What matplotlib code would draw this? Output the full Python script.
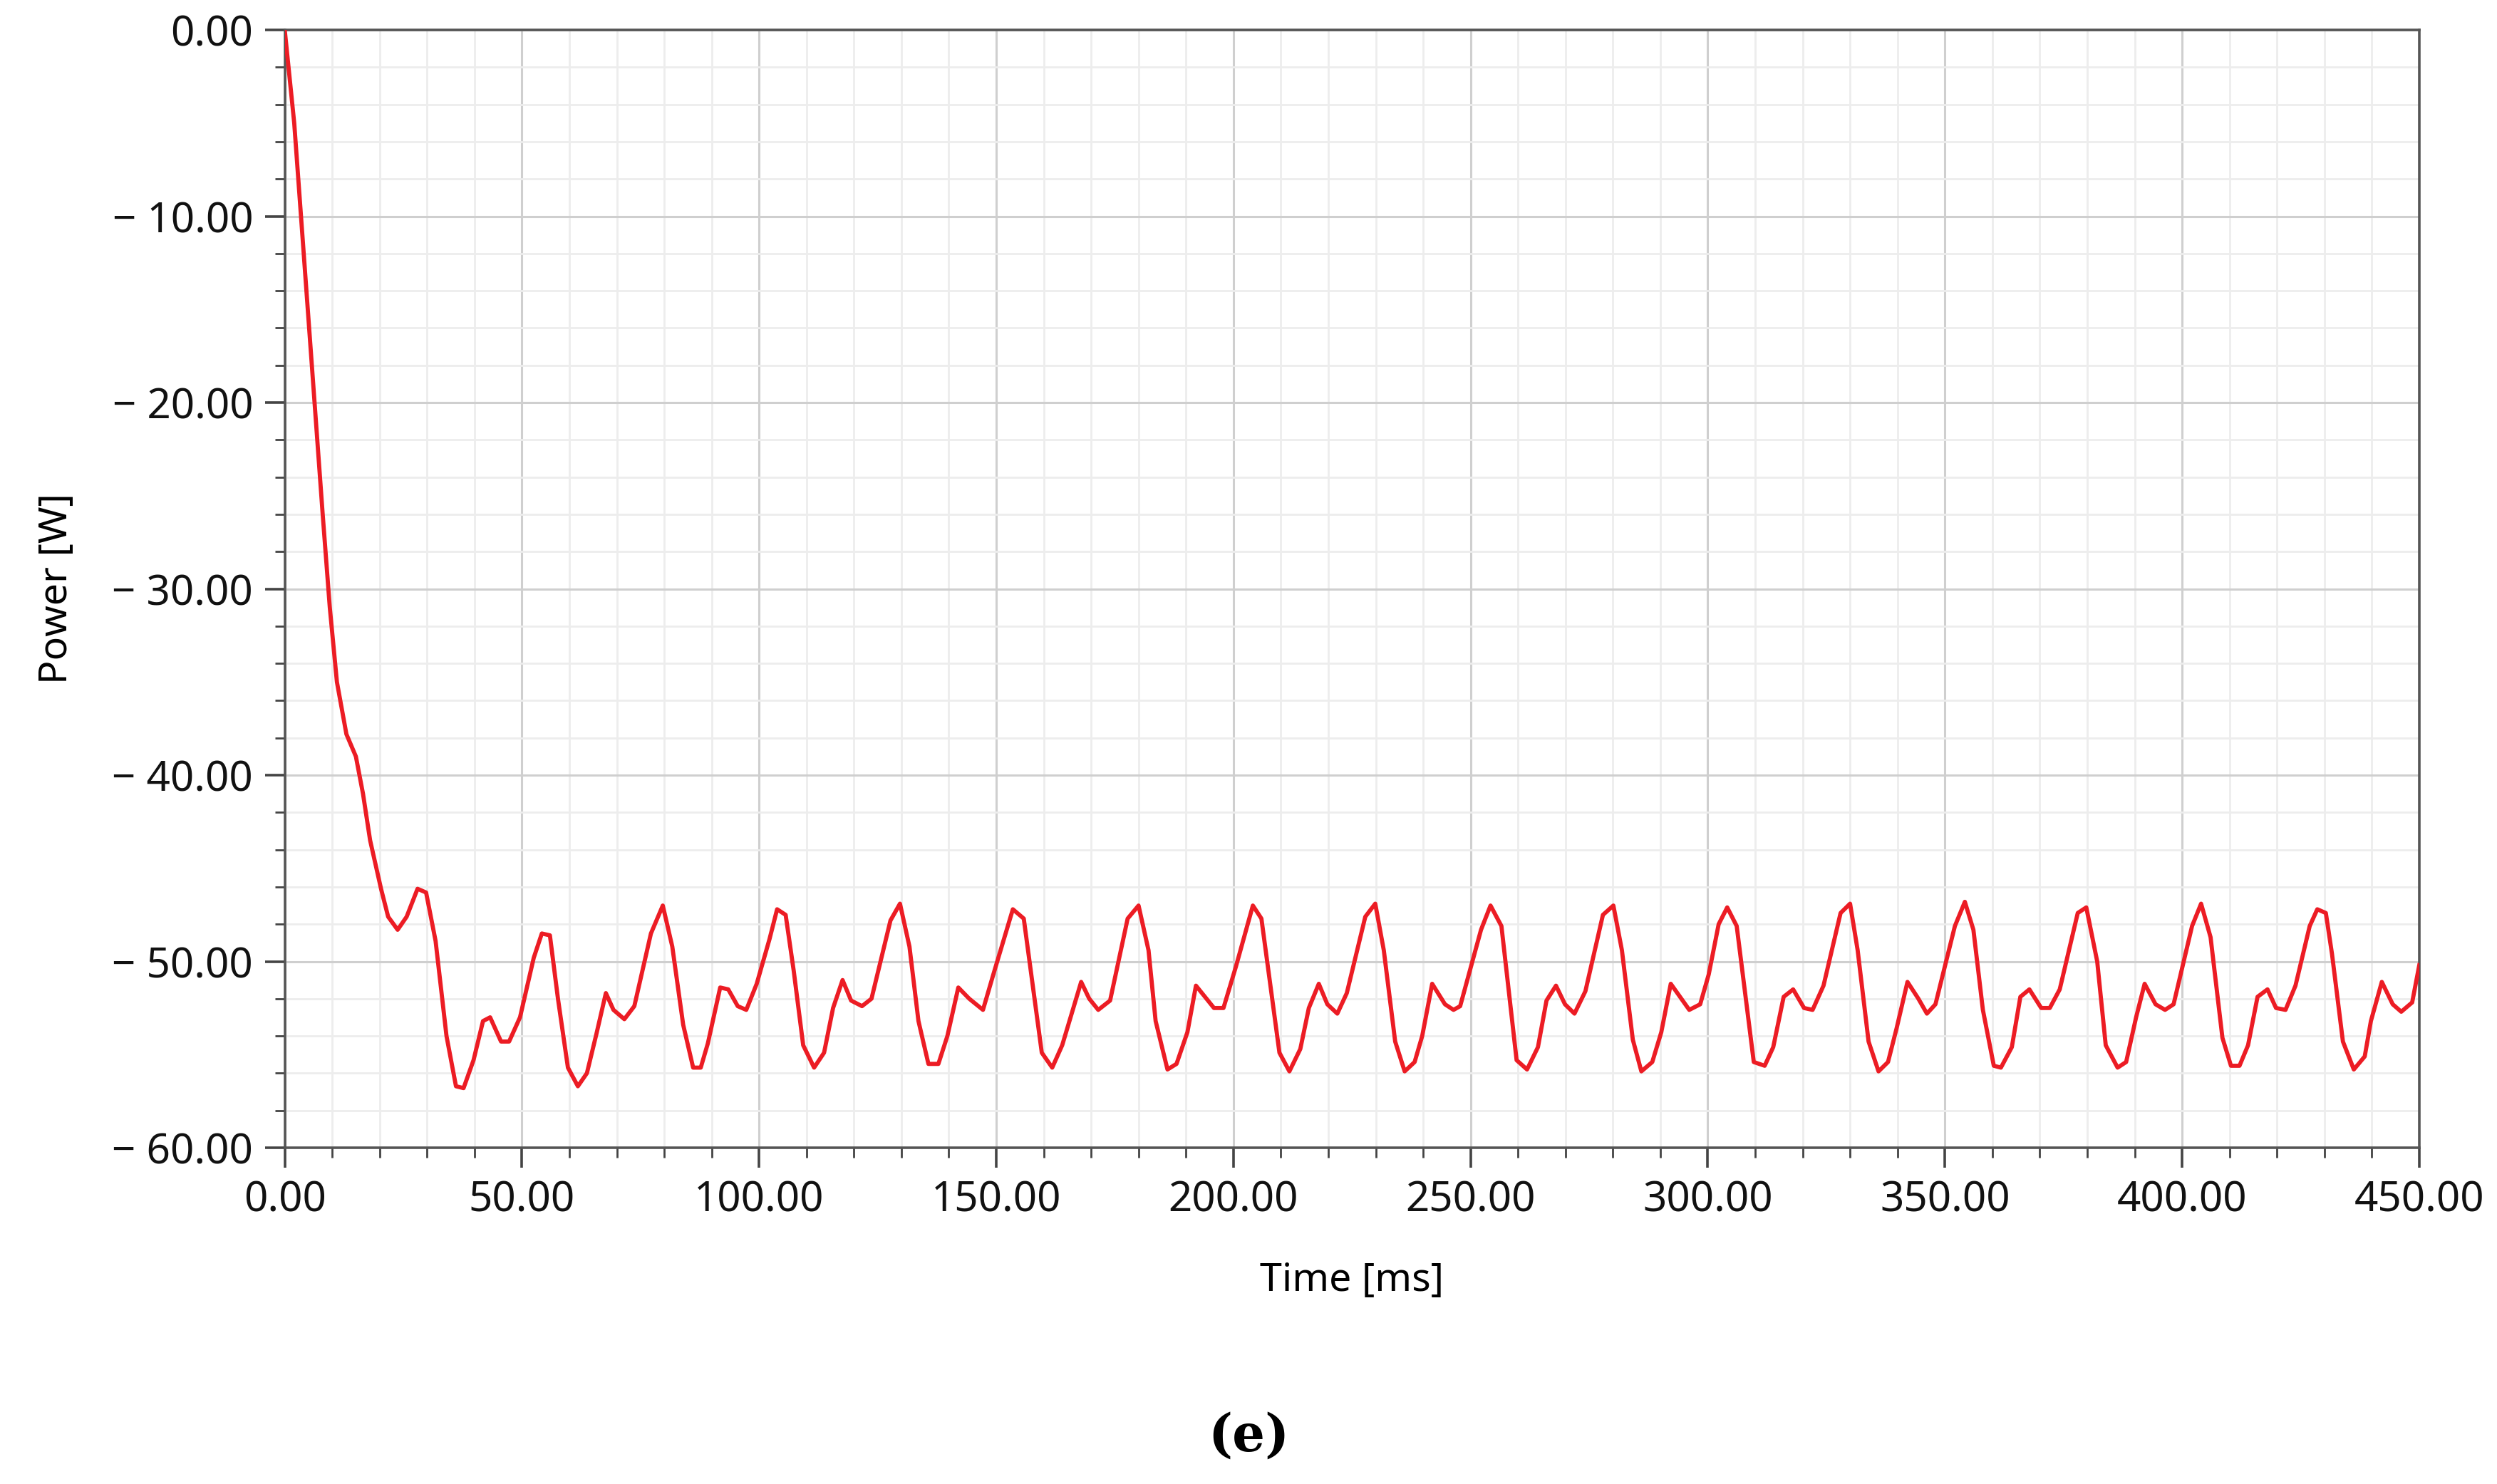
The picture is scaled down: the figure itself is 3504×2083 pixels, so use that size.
import matplotlib
matplotlib.use("Agg")
import matplotlib.pyplot as plt
from matplotlib.ticker import MultipleLocator, FixedLocator

# values
time_ms = [0, 2, 4, 6, 8, 9.5, 11, 13, 15, 16.5, 18, 20.3, 21.8, 23.8, 25.7, 28.0, 29.8,
           31.8, 34.1, 36.1, 37.7, 39.8, 41.8, 43.3, 45.6, 47.3, 49.6, 52.5, 54.2, 55.9,
           57.6, 59.7, 61.8, 63.7, 65.7, 67.7, 69.3, 71.6, 73.7, 77.2, 79.7, 81.7, 84.0,
           86.1, 87.7, 89.2, 91.8, 93.5, 95.5, 97.3, 99.5, 102.2, 103.8, 105.6, 107.3,
           109.3, 111.6, 113.7, 115.6, 117.6, 119.4, 121.7, 123.7, 127.7, 129.7, 131.7,
           133.6, 135.7, 137.8, 139.7, 142.0, 144.3, 147.2, 149.5, 153.5, 155.8, 159.6,
           161.8, 163.9, 167.9, 169.6, 171.5, 174.0, 177.7, 180.0, 182.1, 183.6, 186.1,
           188.0, 190.3, 192.1, 195.9, 197.9, 200.5, 204.1, 205.9, 207.9, 209.7, 211.8,
           214.1, 215.9, 218.0, 219.8, 221.9, 223.9, 227.8, 229.9, 231.7, 234.1, 236.1,
           238.2, 239.8, 241.9, 244.6, 246.4, 247.8, 252.2, 254.2, 256.5, 259.7, 261.9,
           264.2, 266.0, 268.0, 269.9, 271.9, 274.2, 277.9, 280.1, 281.9, 284.2, 286.0,
           288.3, 290.2, 292.2, 296.1, 298.4, 300.2, 302.3, 304.1, 306.1, 309.7, 312.0,
           313.8, 316.0, 318.0, 320.3, 322.1, 324.4, 328.0, 330.0, 331.6, 333.9, 336.0,
           338.0, 339.8, 342.1, 344.4, 346.2, 348.0, 352.1, 354.2, 356.0, 358.0, 360.3,
           361.8, 364.1, 365.9, 367.8, 370.3, 372.1, 374.2, 378.0, 379.8, 382.1, 383.9,
           386.4, 388.2, 390.3, 392.1, 394.4, 396.4, 398.2, 402.1, 404.0, 406.0, 408.5,
           410.3, 412.1, 413.9, 415.9, 418.0, 419.8, 421.8, 423.9, 426.9, 428.5, 430.3,
           431.6, 433.9, 436.2, 438.5, 439.8, 442.1, 444.4, 446.2, 448.5, 450.0]
power_w = [0, -5, -12, -19, -26, -31, -35, -37.8, -39, -41, -43.5, -46.1, -47.6, -48.3,
           -47.6, -46.1, -46.3, -48.9, -54.0, -56.7, -56.8, -55.3, -53.2, -53.0, -54.3,
           -54.3, -53.0, -49.8, -48.5, -48.6, -52.0, -55.7, -56.7, -56.0, -53.9, -51.7,
           -52.6, -53.1, -52.4, -48.5, -47.0, -49.2, -53.4, -55.7, -55.7, -54.4, -51.4,
           -51.5, -52.4, -52.6, -51.2, -48.8, -47.2, -47.5, -50.5, -54.5, -55.7, -54.9,
           -52.5, -51.0, -52.1, -52.4, -52.0, -47.8, -46.9, -49.2, -53.2, -55.5, -55.5,
           -54.0, -51.4, -52.0, -52.6, -50.6, -47.2, -47.7, -54.9, -55.7, -54.5, -51.1,
           -52.0, -52.6, -52.1, -47.7, -47.0, -49.4, -53.2, -55.8, -55.5, -53.8, -51.3,
           -52.5, -52.5, -50.3, -47.0, -47.7, -51.5, -54.9, -55.9, -54.7, -52.5, -51.2,
           -52.3, -52.8, -51.7, -47.6, -46.9, -49.4, -54.3, -55.9, -55.4, -54.0, -51.2,
           -52.3, -52.6, -52.4, -48.3, -47.0, -48.1, -55.3, -55.8, -54.6, -52.1, -51.3,
           -52.3, -52.8, -51.6, -47.5, -47.0, -49.4, -54.2, -55.9, -55.4, -53.8, -51.2,
           -52.6, -52.3, -50.7, -48.0, -47.1, -48.1, -55.4, -55.6, -54.6, -51.9, -51.5,
           -52.5, -52.6, -51.3, -47.4, -46.9, -49.4, -54.3, -55.9, -55.4, -53.6, -51.1,
           -52.0, -52.8, -52.3, -48.1, -46.8, -48.3, -52.6, -55.6, -55.7, -54.6, -51.9,
           -51.5, -52.5, -52.5, -51.5, -47.4, -47.1, -50.0, -54.5, -55.7, -55.4, -53.0,
           -51.2, -52.3, -52.6, -52.3, -48.1, -46.9, -48.7, -54.1, -55.6, -55.6, -54.5,
           -51.9, -51.5, -52.5, -52.6, -51.3, -48.1, -47.2, -47.4, -49.6, -54.3, -55.8,
           -55.1, -53.2, -51.1, -52.3, -52.7, -52.2, -50.2]

x_ticks = [0, 50, 100, 150, 200, 250, 300, 350, 400, 450]
y_ticks = [0, -10, -20, -30, -40, -50, -60]

plt.rcParams['font.family'] = ['Noto Sans', 'DejaVu Sans']
fig = plt.figure(figsize=(35.05, 20.83), dpi=100)
ax = fig.add_axes([0.114, 0.2266, 0.8546, 0.7532])

ax.plot(time_ms, power_w, color="#ec1c24", lw=4.2, zorder=3)

ax.set_xlim(0, 450)
ax.set_ylim(-60, 0)
ax.xaxis.set_major_locator(FixedLocator(x_ticks))
ax.yaxis.set_major_locator(FixedLocator(y_ticks))
ax.xaxis.set_minor_locator(MultipleLocator(10))
ax.yaxis.set_minor_locator(MultipleLocator(2))
ax.set_xticklabels([f"{v:.2f}" for v in x_ticks])
ax.set_yticklabels([("\u2212 " if v < 0 else "") + f"{abs(v):.2f}" for v in y_ticks])

ax.grid(which="major", color="#cfcfcf", lw=2.2)
ax.grid(which="minor", color="#ededed", lw=2.0)
ax.set_axisbelow(True)
for s in ax.spines.values():
    s.set_color("#555555")
    s.set_linewidth(2.6)
ax.tick_params(which="major", length=20, width=2.6, color="#444444",
               labelsize=42, pad=12, labelcolor="#111111")
ax.tick_params(which="minor", length=10, width=2, color="#444444")

ax.set_xlabel("Time [ms]", fontsize=40, labelpad=40)
ax.set_ylabel("Power [W]", fontsize=40, labelpad=36)

fig.text(0.5, 0.032, "(e)", ha="center", va="center", fontsize=52,
         fontweight="bold", family="DejaVu Serif")

fig.savefig("out.png", dpi=100)
